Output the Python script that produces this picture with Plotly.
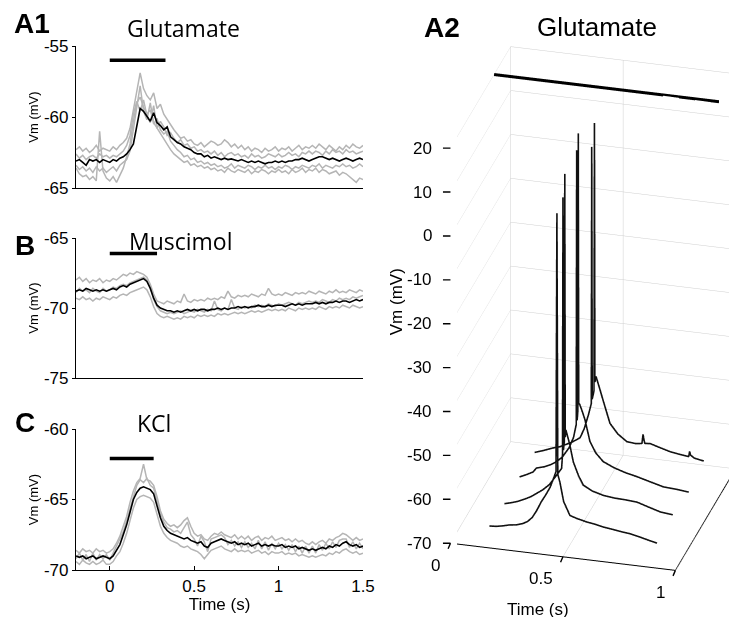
import plotly.graph_objects as go

# ---- 2D panels: time grid (s) and membrane potential traces (mV) ----
n_pts = 86
t_2d = [round(-0.2 + 0.02 * i, 2) for i in range(n_pts)]

glu_mean = [-63.1, -63.0, -63.2, -63.4, -63.0, -63.1, -63.0, -63.2, -63.0, -63.1,
            -63.2, -63.0, -63.1, -62.9, -62.8, -62.6, -62.3, -61.9, -60.6, -59.4,
            -59.6, -60.0, -60.3, -59.7, -60.4, -60.6, -60.9, -60.7, -61.4, -61.6,
            -61.8, -61.9, -62.1, -62.2, -62.3, -62.5, -62.6, -62.6, -62.8, -62.7,
            -62.9, -62.8, -62.9, -63.0, -62.9, -63.0, -62.95, -63.0, -63.1, -63.0,
            -63.1, -63.2, -63.1, -63.2, -63.1, -63.2, -63.3, -63.2, -63.2, -63.1,
            -63.2, -63.1, -63.2, -63.1, -63.1, -63.0, -63.0, -62.9, -63.0, -63.1,
            -63.0, -62.9, -62.8, -62.8, -62.9, -63.0, -62.9, -63.0, -63.1, -63.0,
            -62.9, -63.0, -63.1, -63.0, -62.9, -63.0]
glu_trials = [
    [-62.3, -62.1, -62.4, -62.2, -62.5, -62.3, -62.0, -62.4, -62.2, -62.3,
     -62.4, -62.1, -62.3, -62.0, -61.8, -61.5, -60.8, -59.5, -58.2, -56.9,
     -58.0, -58.5, -58.8, -58.3, -59.4, -59.1, -59.8, -60.2, -60.6, -60.9,
     -61.2, -61.5, -61.4, -61.7, -61.6, -61.9, -62.0, -61.8, -62.1, -61.9,
     -61.7, -61.8, -62.0, -61.9, -61.6, -61.8, -62.1, -61.9, -62.2, -62.0,
     -62.3, -62.1, -62.4, -62.2, -62.3, -62.5, -62.2, -62.4, -62.3, -62.1,
     -62.4, -62.2, -62.3, -62.1, -62.4, -62.2, -62.0, -62.3, -62.1, -62.2,
     -62.0, -62.2, -61.9, -62.1, -62.3, -62.0, -62.2, -62.4, -62.1, -62.3,
     -62.0, -62.2, -61.9, -62.1, -62.2, -62.0],
    [-63.6, -64.0, -64.2, -64.1, -64.4, -64.2, -64.5, -61.0, -63.8, -64.3,
     -64.5, -64.2, -64.6, -64.1, -63.6, -62.8, -61.9, -60.3, -59.0, -58.6,
     -59.3, -59.8, -59.5, -60.4, -60.8, -61.1, -61.5, -61.9, -62.3, -62.6,
     -62.8, -63.0, -63.2, -63.1, -63.4, -63.3, -63.5, -63.4, -63.6, -63.5,
     -63.7, -63.6, -63.8, -63.7, -63.9, -63.6, -63.8, -63.9, -63.7, -63.8,
     -63.9, -63.7, -64.0, -63.8, -63.9, -63.7, -63.8, -64.0, -63.8, -63.9,
     -63.7, -63.9, -63.8, -64.0, -63.7, -63.9, -63.8, -63.6, -63.9, -63.7,
     -63.8, -63.6, -63.9, -63.7, -63.8, -64.0, -63.9, -63.8, -64.1, -63.9,
     -64.0, -64.2, -64.4, -64.6, -64.3, -64.4],
    [-63.4, -63.7, -63.5, -63.8, -63.6, -63.9, -63.5, -63.8, -63.6, -63.9,
     -63.7, -63.5, -63.8, -63.4, -63.2, -63.0, -62.4, -61.0, -59.3, -57.8,
     -59.6, -60.2, -59.0, -60.5, -60.1, -60.9, -61.2, -61.0, -61.7, -62.0,
     -62.3, -62.5, -62.8, -62.7, -63.0, -62.9, -63.2, -63.1, -63.3, -63.2,
     -63.4, -63.3, -63.5, -63.4, -63.6, -63.5, -63.3, -63.6, -63.4, -63.5,
     -63.6, -63.4, -63.5, -63.7, -63.5, -63.6, -63.4, -63.6, -63.5, -63.7,
     -63.5, -63.6, -63.4, -63.5, -63.7, -63.5, -63.6, -63.4, -63.5, -63.6,
     -63.4, -63.5, -63.3, -63.6, -63.4, -63.5, -63.6, -63.4, -63.5, -63.3,
     -63.5, -63.4, -63.6, -63.5, -63.3, -63.5],
    [-62.6, -62.9, -62.7, -63.0, -62.8, -62.7, -62.9, -62.6, -62.8, -62.7,
     -62.9, -62.7, -62.8, -62.6, -62.4, -62.0, -61.3, -59.8, -58.9, -59.6,
     -58.8, -59.9, -60.4, -59.2, -60.8, -60.3, -60.7, -61.3, -61.1, -61.5,
     -61.8, -61.6, -62.0, -61.9, -62.2, -62.1, -62.4, -62.3, -62.5, -62.4,
     -62.6, -62.4, -62.7, -62.5, -62.8, -62.6, -62.5, -62.7, -62.6, -62.8,
     -62.7, -62.9, -62.6, -62.8, -62.7, -62.9, -62.8, -62.6, -62.7, -62.8,
     -62.6, -62.8, -62.7, -62.5, -62.7, -62.6, -62.8, -62.5, -62.6, -62.4,
     -62.6, -62.4, -62.5, -62.7, -62.4, -62.6, -62.3, -62.5, -62.4, -62.6,
     -62.3, -62.5, -62.4, -62.6, -62.5, -62.4],
]

mus_mean = [-68.8, -68.7, -68.8, -68.6, -68.7, -68.8, -68.7, -68.8, -68.7, -68.8,
            -68.7, -68.6, -68.7, -68.5, -68.4, -68.5, -68.3, -68.2, -68.1, -68.0,
            -67.9, -68.1, -68.6, -69.3, -69.8, -70.0, -70.1, -70.2, -70.2, -70.3,
            -70.2, -70.3, -70.2, -70.1, -70.2, -70.1, -70.2, -70.1, -70.1, -70.2,
            -70.1, -70.1, -70.0, -70.1, -70.0, -70.1, -70.0, -70.0, -69.9, -70.0,
            -69.9, -70.0, -69.9, -69.9, -69.8, -69.9, -69.9, -69.8, -69.9, -69.8,
            -69.8, -69.8, -69.9, -69.8, -69.7, -69.8, -69.7, -69.8, -69.7, -69.7,
            -69.7, -69.6, -69.7, -69.6, -69.7, -69.6, -69.6, -69.5, -69.6, -69.5,
            -69.5, -69.6, -69.5, -69.4, -69.5, -69.4]
mus_trials = [
    [-68.0, -67.8, -68.1, -67.9, -68.2, -68.0, -68.1, -67.9, -68.2, -68.0,
     -68.1, -67.9, -68.0, -67.8, -67.6, -67.7, -67.5, -67.6, -67.4, -67.5,
     -67.6, -67.8, -68.3, -69.0, -69.5, -69.6, -69.7, -69.5, -69.6, -69.7,
     -69.5, -69.6, -69.0, -69.5, -69.6, -69.4, -69.5, -69.4, -69.5, -69.3,
     -69.4, -69.3, -69.4, -69.2, -69.3, -68.8, -69.2, -69.3, -69.1, -69.2,
     -69.1, -69.2, -69.0, -69.1, -69.2, -69.0, -69.1, -68.6, -69.0, -69.1,
     -69.0, -69.1, -68.9, -69.0, -69.1, -68.9, -69.0, -68.9, -69.0, -68.8,
     -68.9, -69.0, -68.8, -68.9, -69.0, -68.8, -68.9, -68.7, -68.9, -68.8,
     -68.9, -68.7, -68.8, -68.9, -68.7, -68.8],
    [-69.3, -69.4, -69.2, -69.4, -69.3, -69.5, -69.3, -69.4, -69.2, -69.3,
     -69.4, -69.2, -69.3, -69.1, -69.0, -69.1, -68.9, -68.8, -68.7, -68.6,
     -68.5, -68.7, -69.2, -69.9, -70.4, -70.6, -70.7, -70.6, -70.7, -70.8,
     -70.7, -70.8, -70.6, -70.7, -70.6, -70.7, -70.5, -70.6, -70.5, -70.6,
     -70.5, -70.6, -70.4, -70.5, -70.4, -70.5, -70.4, -70.3, -70.4, -70.3,
     -70.4, -70.3, -70.2, -70.3, -70.2, -70.3, -70.2, -70.1, -70.2, -70.1,
     -70.2, -70.1, -70.2, -70.0, -70.1, -70.2, -70.0, -70.1, -70.0, -70.1,
     -70.0, -70.1, -69.9, -70.0, -70.1, -69.9, -70.0, -69.9, -70.0, -69.8,
     -69.9, -70.0, -69.8, -69.9, -70.0, -69.9],
    [-68.9, -68.6, -68.8, -68.7, -68.9, -68.6, -68.8, -68.9, -68.6, -68.8,
     -68.7, -68.5, -68.6, -68.4, -68.3, -68.4, -68.2, -68.1, -68.0, -67.9,
     -67.8, -68.0, -68.5, -69.4, -69.9, -70.2, -70.3, -70.4, -70.3, -70.4,
     -70.3, -70.2, -70.4, -70.3, -70.2, -70.3, -70.1, -70.2, -70.3, -70.1,
     -70.2, -69.5, -70.1, -70.2, -70.0, -70.1, -69.4, -70.0, -70.1, -69.9,
     -70.0, -69.9, -70.0, -69.8, -69.9, -69.8, -69.9, -69.7, -69.8, -69.9,
     -69.7, -69.8, -69.7, -69.6, -69.7, -69.8, -69.6, -69.7, -69.6, -69.5,
     -69.6, -69.5, -69.6, -69.4, -69.5, -69.6, -69.4, -69.5, -69.3, -69.4,
     -69.3, -69.4, -69.2, -69.3, -69.2, -69.1],
]

kcl_mean = [-69.0, -69.1, -69.0, -69.2, -69.1, -69.0, -69.2, -69.1, -69.0, -69.1,
            -69.2, -69.0, -68.6, -68.2, -67.5, -66.8, -65.9, -65.0, -64.5, -64.2,
            -64.1, -64.2, -64.3, -64.6, -65.4, -66.3, -66.9, -67.2, -67.4, -67.5,
            -67.6, -67.7, -67.8, -67.7, -67.9, -68.0, -68.1, -68.0, -68.3, -68.4,
            -68.1, -68.0, -67.9, -67.8, -67.9, -68.0, -68.1, -68.0, -68.2, -68.1,
            -68.2, -68.1, -68.3, -68.2, -68.1, -68.3, -68.2, -68.3, -68.2, -68.3,
            -68.3, -68.2, -68.4, -68.3, -68.4, -68.3, -68.5, -68.4, -68.5, -68.6,
            -68.5, -68.6, -68.5, -68.4, -68.5, -68.3, -68.4, -68.2, -68.3, -68.1,
            -68.0, -68.2, -68.3, -68.2, -68.4, -68.3]
kcl_trials = [
    [-68.6, -68.8, -68.5, -68.7, -68.6, -68.8, -68.5, -68.7, -68.6, -68.8,
     -68.7, -68.5, -68.1, -67.6, -66.9, -66.2, -65.2, -64.4, -63.8, -63.5,
     -62.5, -63.6, -63.7, -64.0, -64.8, -65.8, -66.4, -66.7, -66.9, -66.8,
     -67.0, -66.8, -66.5, -66.3, -66.9, -67.4, -67.6, -67.5, -67.8, -67.9,
     -67.6, -67.4, -67.5, -67.3, -67.5, -67.6, -67.7, -67.5, -67.8, -67.6,
     -67.8, -67.6, -67.9, -67.7, -67.6, -67.9, -67.7, -67.8, -67.6, -67.9,
     -67.8, -67.7, -67.9, -67.8, -68.0, -67.8, -68.0, -67.9, -68.1, -68.2,
     -68.0, -68.2, -68.0, -67.9, -68.1, -67.8, -67.9, -67.7, -67.6, -67.4,
     -67.5, -67.7, -67.9, -67.7, -67.9, -67.8],
    [-69.4, -69.6, -69.3, -69.5, -69.6, -69.4, -69.6, -69.5, -69.3, -69.6,
     -69.6, -69.4, -69.0, -68.7, -68.1, -67.4, -66.5, -65.6, -65.0, -64.8,
     -64.7, -64.8, -64.9, -65.2, -66.0, -66.9, -67.4, -67.7, -67.9, -68.0,
     -68.1, -68.3, -68.4, -68.3, -68.5, -68.6, -68.7, -68.9, -69.2, -68.9,
     -68.6, -68.5, -68.4, -68.3, -68.5, -68.6, -68.7, -68.5, -68.7, -68.6,
     -68.7, -68.6, -68.8, -68.7, -68.6, -68.8, -68.7, -68.9, -68.7, -68.8,
     -68.8, -68.7, -68.9, -68.8, -68.9, -68.8, -69.0, -68.9, -69.0, -69.1,
     -69.0, -69.1, -69.0, -68.9, -69.0, -68.8, -68.9, -68.7, -68.8, -68.6,
     -68.5, -68.7, -68.8, -68.7, -68.9, -68.8],
    [-69.2, -68.8, -69.3, -68.9, -69.4, -68.8, -69.3, -68.9, -69.2, -68.9,
     -69.3, -68.8, -68.4, -67.9, -67.3, -66.5, -65.6, -64.7, -64.0, -63.6,
     -63.8, -63.5, -64.0, -64.2, -65.1, -66.0, -66.6, -67.0, -67.1, -67.3,
     -67.2, -67.4, -67.0, -66.6, -67.5, -67.8, -68.3, -67.6, -68.0, -68.7,
     -67.8, -67.7, -67.6, -67.5, -67.7, -68.2, -67.9, -68.3, -68.0, -68.4,
     -68.0, -68.4, -68.1, -68.5, -67.9, -68.5, -68.0, -68.6, -68.1, -68.5,
     -68.1, -68.5, -68.2, -68.6, -68.2, -68.7, -68.3, -68.8, -68.3, -68.8,
     -68.3, -68.8, -68.2, -68.6, -68.1, -68.5, -68.0, -68.4, -67.9, -67.8,
     -67.8, -68.4, -68.0, -68.5, -68.1, -68.5],
]

# drug application bars: (start/end s, level mV)
glu_bar = ([0.0, 0.33], [-56.0, -56.0])
mus_bar = ([0.0, 0.28], [-66.1, -66.1])
kcl_bar = ([0.0, 0.26], [-62.1, -62.1])

# ---- A2: single glutamate trials with spikes (time s, Vm mV), trial depth index ----
trial_depth = [0.5, 1.5, 2.5, 3.5]
a2_t = [
    [0.14, 0.17, 0.20, 0.23, 0.26, 0.29, 0.31, 0.33, 0.35, 0.37, 0.39, 0.41, 0.425, 0.436,
     0.440, 0.444, 0.453, 0.47, 0.498, 0.53, 0.572, 0.61, 0.646, 0.69, 0.73, 0.766, 0.81, 0.85, 0.885],
    [0.14, 0.17, 0.20, 0.23, 0.26, 0.282, 0.31, 0.34, 0.37, 0.394, 0.398, 0.400, 0.402, 0.406,
     0.408, 0.410, 0.413, 0.43, 0.446, 0.47, 0.49, 0.53, 0.58, 0.63, 0.68, 0.729, 0.78, 0.833, 0.888],
    [0.14, 0.17, 0.20, 0.215, 0.25, 0.28, 0.304, 0.33, 0.36, 0.38, 0.392, 0.394, 0.396, 0.399,
     0.401, 0.403, 0.408, 0.42, 0.431, 0.453, 0.48, 0.512, 0.56, 0.61, 0.662, 0.72, 0.78, 0.84, 0.892],
    [0.14, 0.18, 0.22, 0.252, 0.28, 0.31, 0.342, 0.36, 0.379, 0.392, 0.394, 0.396, 0.404, 0.406,
     0.408, 0.413, 0.43, 0.446, 0.475, 0.51, 0.55, 0.59, 0.617, 0.622, 0.626, 0.63, 0.654, 0.70,
     0.743, 0.78, 0.825, 0.829, 0.833, 0.85, 0.892],
]
a2_v = [
    [-68.1, -68.0, -67.7, -67.3, -67.1, -66.6, -66.0, -65.0, -63.3, -61.2, -59.5, -57.6, -55.5, -53.9,
     5.0, -54.5, -56.1, -60.5, -63.5, -64.0, -64.5, -64.8, -65.2, -65.5, -65.8, -66.0, -66.5, -67.0, -67.4],
    [-68.8, -68.4, -67.9, -67.2, -66.4, -65.6, -64.6, -63.2, -61.0, -59.2, -56.0, 2.6, -55.0, -53.0,
     8.0, -52.0, -50.3, -53.5, -57.4, -60.5, -62.4, -63.5, -64.2, -64.5, -64.6, -64.8, -65.6, -66.4, -66.7],
    [-68.5, -67.8, -67.0, -66.0, -65.5, -64.8, -64.0, -62.8, -60.5, -58.0, -55.0, 7.5, -54.0, -52.0,
     11.4, -50.0, -50.4, -52.0, -53.7, -58.5, -61.0, -62.7, -63.8, -64.6, -65.2, -66.0, -66.8, -67.0, -67.3],
    [-68.7, -68.0, -67.2, -66.7, -66.0, -65.2, -64.1, -62.0, -58.7, -56.0, 2.5, -55.0, -53.0, 8.0,
     -51.0, -49.7, -52.5, -55.2, -60.0, -62.2, -63.7, -63.9, -63.7, -61.6, -62.8, -63.6, -63.5, -64.2,
     -64.8, -65.1, -65.4, -64.2, -65.0, -65.6, -66.0],
]
a2_bar_t = [0.0, 1.0]
a2_bar_v = [20.0, 20.0]
a2_bar_depth = 2.9

# A2 axis ranges and tick labels
a2_t_range = [0, 1]
a2_depth_range = [0, 4]
a2_v_range = [-70, 20]
a2_t_ticks = [0, 0.5, 1]
a2_t_ticktext = ["0", "0.5", "1"]
a2_v_ticks = [-70, -60, -50, -40, -30, -20, -10, 0, 10, 20]

GRAY = "#b5b5b5"
NARROW = "Liberation Sans Narrow, Liberation Sans, Arial"
TICKFONT = dict(family=NARROW, size=17, color="black")
A2FONT = dict(family="Liberation Sans", size=17, color="black")

fig = go.Figure()

panels = [
    ("x", "y", glu_trials, glu_mean, glu_bar),
    ("x2", "y2", mus_trials, mus_mean, mus_bar),
    ("x3", "y3", kcl_trials, kcl_mean, kcl_bar),
]
for xa, ya, trials, mean, bar in panels:
    for tr in trials:
        fig.add_trace(go.Scatter(x=t_2d, y=tr, mode="lines", xaxis=xa, yaxis=ya,
                                 line=dict(color=GRAY, width=1.5)))
    fig.add_trace(go.Scatter(x=t_2d, y=mean, mode="lines", xaxis=xa, yaxis=ya,
                             line=dict(color="black", width=1.6)))
    fig.add_trace(go.Scatter(x=bar[0], y=bar[1], mode="lines", xaxis=xa, yaxis=ya,
                             line=dict(color="black", width=3.5)))

# 3D panel
for d, tt, vv in zip(trial_depth, a2_t, a2_v):
    fig.add_trace(go.Scatter3d(x=tt, y=[d] * len(tt), z=vv, mode="lines",
                               line=dict(color="#111111", width=3.2), scene="scene"))
fig.add_trace(go.Scatter3d(x=a2_bar_t, y=[a2_bar_depth] * 2, z=a2_bar_v, mode="lines",
                           line=dict(color="black", width=6), scene="scene"))
# front-left vertical edge carries the Vm axis; a perfectly vertical segment is not drawn by
# the WebGL line shader, so its top end is nudged by a hair along time
fig.add_trace(go.Scatter3d(x=[a2_t_range[0] + 0.004, a2_t_range[0] + 0.006],
                           y=[a2_depth_range[0] + 0.02] * 2,
                           z=[a2_v_range[0] + 0.05, a2_v_range[1] - 0.05],
                           mode="lines", line=dict(color="black", width=3.5), scene="scene"))


def xax(domain, labels):
    return dict(domain=domain, range=[-0.2, 1.5], showline=True, linecolor="black", linewidth=1.2,
                showgrid=False, zeroline=False, ticks="inside" if labels else "",
                tickvals=[0, 0.5, 1, 1.5] if labels else [], ticktext=["0", "0.5", "1", "1.5"] if labels else [],
                ticklen=4, tickcolor="black", automargin=False,
                showticklabels=labels, tickfont=TICKFONT)


def yax(domain, rng, anchor):
    vals = [rng[0], (rng[0] + rng[1]) / 2, rng[1]]
    return dict(domain=domain, range=rng, tickvals=vals, ticktext=["%d" % v for v in vals],
                showline=True, linecolor="black", linewidth=1.2, showgrid=False, zeroline=False,
                ticks="outside", ticklen=3, tickcolor="black", tickfont=TICKFONT, anchor=anchor,
                automargin=False,
                title=dict(text="Vm (mV)", standoff=2, font=dict(family=NARROW, size=13, color="black")))


# tick marks, tick labels and titles of the 3D box, anchored to its own data coordinates
tick_style = dict(text="", showarrow=True, arrowhead=0, arrowwidth=1.4, arrowcolor="black", standoff=0)
scene_notes = []
for v in a2_v_ticks:
    scene_notes.append(dict(x=a2_t_range[0], y=a2_depth_range[0], z=v, ax=-9, ay=0, **tick_style))
    scene_notes.append(dict(x=a2_t_range[0], y=a2_depth_range[0], z=v, text=str(v), showarrow=False,
                            xanchor="right", yanchor="middle", xshift=-16, font=A2FONT))
for v, lab in zip(a2_t_ticks, a2_t_ticktext):
    scene_notes.append(dict(x=v, y=a2_depth_range[0], z=a2_v_range[0], ax=-3, ay=7, **tick_style))
    scene_notes.append(dict(x=v, y=a2_depth_range[0], z=a2_v_range[0], text=lab, showarrow=False,
                            xanchor="right", yanchor="middle", xshift=-8, yshift=-22, font=A2FONT))
scene_notes.append(dict(x=0.5, y=a2_depth_range[0], z=a2_v_range[0], text="Time (s)", showarrow=False,
                        xshift=-25, yshift=-53, font=A2FONT))
scene_notes.append(dict(x=a2_t_range[0], y=a2_depth_range[0], z=-15, text="Vm (mV)", showarrow=False,
                        textangle=-90, xshift=-54, font=A2FONT))

xdom = [76 / 729, 363 / 729]
fig.update_layout(
    template="none",
    width=729, height=617,
    margin=dict(l=0, r=0, t=0, b=0, autoexpand=False),
    paper_bgcolor="white", plot_bgcolor="white",
    font=dict(color="black"),
    showlegend=False, hovermode=False,
    xaxis=xax(xdom, False) | dict(anchor="y"),
    yaxis=yax([1 - 188 / 617, 1 - 46 / 617], [-65, -55], "x"),
    xaxis2=xax(xdom, False) | dict(anchor="y2"),
    yaxis2=yax([1 - 378 / 617, 1 - 238 / 617], [-75, -65], "x2"),
    xaxis3=xax(xdom, True) | dict(anchor="y3",
                                  title=dict(text="Time (s)", standoff=2,
                                             font=dict(family=NARROW, size=17, color="black"))),
    yaxis3=yax([1 - 570 / 617, 1 - 429 / 617], [-70, -60], "x3"),
    scene=dict(
        domain=dict(x=[0.627, 1.0], y=[0.0, 1.0]),
        aspectmode="manual", aspectratio=dict(x=0.755, y=0.755, z=1.435),
        camera=dict(projection=dict(type="orthographic"),
                    eye=dict(x=0.557, y=-2.08, z=1.089), up=dict(x=0, y=0, z=1)),
        xaxis=dict(range=a2_t_range, tickvals=a2_t_ticks, showticklabels=False, title=dict(text=""),
                   showbackground=False, showgrid=True, gridcolor="#cfcfcf", showline=True, linecolor="black",
                   linewidth=2, ticks="", showspikes=False, zeroline=False),
        yaxis=dict(range=a2_depth_range, showticklabels=False, title=dict(text=""), showbackground=False,
                   showgrid=False, showline=True, linecolor="black", linewidth=2, ticks="",
                   showspikes=False, zeroline=False),
        zaxis=dict(range=a2_v_range, tickvals=a2_v_ticks, showticklabels=False, title=dict(text=""),
                   showbackground=False, showgrid=True, gridcolor="#cfcfcf", showline=False, ticks="",
                   showspikes=False, zeroline=False),
        annotations=scene_notes,
    ),
)

letter_font = dict(family="Liberation Sans", size=28, color="black")
title_font = dict(family="Open Sans", size=23, color="black")
notes = [
    ("<b>A1</b>", 12, 24, letter_font, "left"),
    ("<b>B</b>", 13, 245, letter_font, "left"),
    ("<b>C</b>", 13, 422, letter_font, "left"),
    ("<b>A2</b>", 422, 27, letter_font, "left"),
    ("Glutamate", 184, 28, title_font, "center"),
    ("Muscimol", 181, 241, title_font, "center"),
    ("KCl", 154, 423, title_font, "center"),
    ("Glutamate", 597, 27, dict(family="Liberation Sans", size=26, color="black"), "center"),
]
for text, px, py, font, xanchor in notes:
    fig.add_annotation(text=text, x=px / 729, y=1 - py / 617, xref="paper", yref="paper",
                       xanchor=xanchor, yanchor="middle", showarrow=False, font=font)

# the page's default body margin would shift the figure by 8 px
fig.write_html("out.html", config={"displayModeBar": False},
               post_script="document.body.style.margin='0px';")
